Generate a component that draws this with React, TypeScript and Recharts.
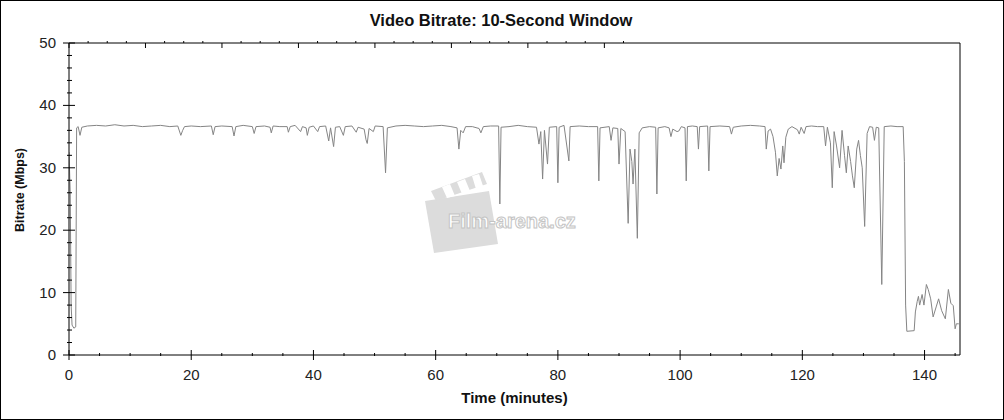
import { Line, LineChart, XAxis, YAxis } from "recharts"

// minutes into the film
const minutes = [
  0, 0.2, 0.35, 0.5, 0.8, 1.1, 1.25, 1.5, 1.8, 2.1, 3, 4.5, 6, 7.5, 9, 10.5, 12, 13.5, 15, 16.5,
  17.8, 18.3, 18.6, 18.9, 20, 21.5, 23.3, 23.6, 23.9, 25, 26.7, 27, 27.3, 28.5, 30, 30.3, 30.6, 32,
  32.9, 33.1, 33.4, 34.5, 35.7, 35.9, 36.2, 37, 37.9, 38.2, 38.8, 39, 39.3, 40, 40.7, 41, 42, 42.5,
  42.8, 43.3, 43.6, 44.3, 44.9, 45.2, 46.3, 47, 47.3, 48.3, 48.6, 48.8, 49.1, 49.8, 50.1, 51.4,
  51.8, 52.1, 53.5, 55, 56.5, 58, 59.5, 61, 62.5, 63.5, 63.8, 64.1, 64.5, 64.9, 66, 67.1, 67.4,
  67.8, 69, 70.3, 70.5, 70.7, 72, 73.5, 75, 76.5, 76.9, 77.2, 77.5, 77.8, 78.3, 78.6, 79.8, 80,
  80.2, 81, 81.8, 82, 83.5, 85, 86.5, 86.7, 86.9, 88.4, 88.7, 89, 89.8, 90, 90.3, 91, 91.5, 91.8,
  92.1, 92.3, 92.6, 93, 93.3, 93.8, 95, 96, 96.2, 96.4, 97.5, 98.2, 98.5, 98.8, 99.5, 99.8, 100.2,
  100.8, 101, 101.2, 102, 102.8, 103, 103.2, 104.5, 104.7, 104.9, 106.5, 108.1, 108.4, 108.7, 110,
  111.5, 113, 113.9, 114.1, 114.4, 114.8, 115.2, 115.6, 115.9, 116.2, 116.5, 116.8, 117, 117.3,
  117.7, 118.3, 119.2, 119.5, 119.8, 120.3, 120.6, 121.5, 122.5, 123.5, 123.8, 124.1, 124.6, 124.9,
  125.2, 125.6, 126.1, 126.5, 126.9, 127.2, 127.5, 127.9, 128.2, 128.5, 128.9, 129.2, 129.5, 129.8,
  130.2, 130.6, 131, 131.5, 131.8, 132.1, 132.5, 133, 133.4, 134.5, 135.5, 136.5, 136.7, 136.9,
  137.1, 138.3, 138.5, 138.8, 139, 139.2, 139.6, 139.9, 140.3, 140.6, 141, 141.4, 141.9, 142.3,
  142.8, 143.4, 143.9, 144.3, 144.7, 145, 145.2, 145.6,
]

// Mbps, 10-second window
const bitrate = [
  32.5, 26, 8, 4.8, 4.3, 4.5, 36.4, 36.6, 35.2, 36.5, 36.7, 36.8, 36.7, 36.9, 36.7, 36.8, 36.6, 36.7, 36.8, 36.6,
  36.7, 35.2, 36.0, 36.6, 36.7, 36.6, 36.7, 35.3, 36.6, 36.7, 36.6, 35.1, 36.6, 36.8, 36.6, 35.5, 36.6, 36.7,
  36.5, 35.6, 36.7, 36.6, 36.6, 35.7, 36.6, 36.8, 35.8, 36.6, 36.4, 35.2, 36.5, 36.7, 35.8, 36.6, 36.7, 34.3,
  36.4, 33.4, 36.5, 36.6, 35.2, 36.6, 36.7, 35.7, 36.5, 36.2, 34.5, 33.9, 36.3, 35.8, 36.7, 36.6,
  29.2, 36.4, 36.7, 36.8, 36.7, 36.6, 36.7, 36.8, 36.6, 36.4, 33.0, 36.0, 35.6, 36.6, 36.6, 36.3, 35.6,
  36.6, 36.7, 36.7, 24.2, 36.5, 36.6, 36.8, 36.6, 36.5, 33.8, 35.8, 28.2, 36.0, 30.6, 36.5, 36.6, 27.6,
  36.5, 36.8, 31.1, 36.6, 36.7, 36.6, 36.6, 27.9, 36.4, 36.6, 34.4, 36.4, 36.3, 30.6, 36.3, 35.8, 21.1, 33,
  31, 27.4, 33, 18.7, 35.6, 36.4, 36.6, 36.5, 25.8, 36.4, 36.6, 36.4, 35.0, 36.2, 35.8, 35.9, 36.6,
  36.4, 27.9, 36.6, 36.7, 36.6, 33.0, 36.6, 36.7, 29.5, 36.6, 36.7, 36.6, 35.4, 36.5, 36.7,
  36.8, 36.7, 36.6, 33.0, 35.9, 36.2, 35.0, 32.5, 28.7, 31.5, 29.8, 33.5, 30.8, 34.9,
  36.2, 36.6, 36.1, 35.4, 36.5, 35.5, 36.6, 36.7, 36.6, 36.6, 33.5, 36.5, 34, 26.8,
  35.8, 33.5, 30, 36, 32, 29.2, 33.5, 31.0, 28.7, 26.8, 33, 34.4, 32, 30,
  20.6, 35.5, 36.6, 36.5, 34.4, 36.5, 36.4, 11.3, 36.6, 36.7, 36.6, 36.6, 31, 8,
  3.8, 3.9, 6.9, 8.6, 9.4, 8.0, 9.7, 8.0, 11.3, 10.5, 9.0, 6.1, 7.7, 9.0,
  7.1, 5.8, 10.5, 8.3, 7.9, 4.2, 5.0, 5.0,
]

const xTicks = [0, 5, 10, 15, 20, 25, 30, 35, 40, 45, 50, 55, 60, 65, 70, 75, 80, 85, 90, 95, 100, 105, 110, 115, 120, 125, 130, 135, 140, 145]
const xLabels = [0, 20, 40, 60, 80, 100, 120, 140]
const yTicks = [0, 2, 4, 6, 8, 10, 12, 14, 16, 18, 20, 22, 24, 26, 28, 30, 32, 34, 36, 38, 40, 42, 44, 46, 48, 50]
const yLabels = [0, 10, 20, 30, 40, 50]

const data = minutes.map((t, i) => ({ t, v: bitrate[i] }))

const FONT = "Arial, 'Liberation Sans', sans-serif"

const BottomTick = ({ x, y, payload }: any) => {
  const major = xLabels.includes(payload.value)
  return (
    <g>
      <line x1={x} x2={x} y1={major ? y - 5 : y - 2} y2={major ? y + 5 : y + 1} stroke="#000" />
      {major && (
        <text x={x} y={y + 25} textAnchor="middle" fontSize={15} fontFamily={FONT} fill="#222">
          {payload.value}
        </text>
      )}
    </g>
  )
}

const TopTick = ({ x, y, payload }: any) => {
  const major = xLabels.includes(payload.value)
  return <line x1={x} x2={x} y1={major ? y : y - 2} y2={major ? y + 5 : y} stroke="#000" />
}

const LeftTick = ({ x, y, payload }: any) => {
  const major = yLabels.includes(payload.value)
  return (
    <g>
      <line x1={major ? x - 6 : x - 2} x2={major ? x + 6 : x + 3} y1={y} y2={y} stroke="#000" />
      {major && (
        <text x={x - 13} y={y + 5} textAnchor="end" fontSize={15} fontFamily={FONT} fill="#222">
          {payload.value}
        </text>
      )}
    </g>
  )
}

const RightTick = ({ x, y, payload }: any) => {
  const major = yLabels.includes(payload.value)
  return (
    <g>
      <line x1={major ? x - 6 : x - 3} x2={major ? x + 5 : x + 3} y1={y} y2={y} stroke="#000" />
      {major && (
        <text x={x + 7} y={y + 5} textAnchor="start" fontSize={15} fontFamily={FONT} fill="#222">
          {payload.value}
        </text>
      )}
    </g>
  )
}

export default function App() {
  return (
    <div
      style={{
        position: "absolute",
        left: 0,
        top: 0,
        width: 1004,
        height: 420,
        boxSizing: "border-box",
        border: "1px solid #000",
        background: "#fff",
        fontFamily: FONT,
      }}
    >
      <svg width={1002} height={418} style={{ position: "absolute", left: 0, top: 0 }}>
        <polygon points="424,200 488,190 497,243 433,252" fill="#dcdcdc" />
        <polygon points="430,190 481,171 486,183 435,200" fill="#dcdcdc" />
        <polygon points="441,186 449,183 454,195 446,197" fill="#fff" />
        <polygon points="456,181 464,178 469,190 461,193" fill="#fff" />
        <polygon points="471,175 478,173 482,185 475,188" fill="#fff" />
        <text x={447} y={227} fontSize={20} fontWeight="bold" fontFamily={FONT} fill="#fff" stroke="#c4c4c4" strokeWidth={1}>
          Film-arena.cz
        </text>
      </svg>
      <div style={{ position: "absolute", left: 0, top: 0 }}>
        <LineChart width={1002} height={418} data={data} margin={{ top: 41, right: 42, bottom: 63, left: 67 }}>
          <XAxis
            xAxisId="b"
            dataKey="t"
            type="number"
            domain={[0, 145.8]}
            ticks={xTicks}
            interval={0}
            height={1}
            tickSize={0}
            tickMargin={0}
            tickLine={false}
            axisLine={{ stroke: "#000" }}
            tick={<BottomTick />}
            allowDataOverflow
          />
          <XAxis
            xAxisId="t"
            orientation="top"
            type="number"
            domain={[0, 145.8]}
            ticks={xTicks}
            interval={0}
            height={1}
            tickSize={0}
            tickMargin={0}
            tickLine={false}
            axisLine={{ stroke: "#000" }}
            tick={<TopTick />}
            allowDataOverflow
          />
          <YAxis
            yAxisId="l"
            type="number"
            domain={[0, 50]}
            ticks={yTicks}
            interval={0}
            width={1}
            tickSize={0}
            tickMargin={0}
            tickLine={false}
            axisLine={{ stroke: "#000" }}
            tick={<LeftTick />}
          />
          <YAxis
            yAxisId="r"
            orientation="right"
            type="number"
            domain={[0, 50]}
            ticks={yTicks}
            interval={0}
            width={1}
            tickSize={0}
            tickMargin={0}
            tickLine={false}
            axisLine={{ stroke: "#000" }}
            tick={<RightTick />}
          />
          <Line
            xAxisId="b"
            yAxisId="l"
            dataKey="v"
            type="linear"
            stroke="#858585"
            strokeWidth={1}
            dot={false}
            isAnimationActive={false}
          />
        </LineChart>
      </div>
      <div
        style={{
          position: "absolute",
          left: 0,
          top: 10,
          width: 1000,
          textAlign: "center",
          fontSize: 16.5,
          fontWeight: "bold",
          color: "#111",
        }}
      >
        Video Bitrate: 10-Second Window
      </div>
      <div
        style={{
          position: "absolute",
          left: 68,
          top: 388,
          width: 891,
          textAlign: "center",
          fontSize: 15,
          fontWeight: "bold",
          color: "#111",
        }}
      >
        Time (minutes)
      </div>
      <div
        style={{
          position: "absolute",
          left: 19 - 60,
          top: 189 - 9,
          width: 120,
          height: 18,
          lineHeight: "18px",
          textAlign: "center",
          fontSize: 12.5,
          fontWeight: "bold",
          color: "#111",
          transform: "rotate(-90deg)",
        }}
      >
        Bitrate (Mbps)
      </div>
    </div>
  )
}
